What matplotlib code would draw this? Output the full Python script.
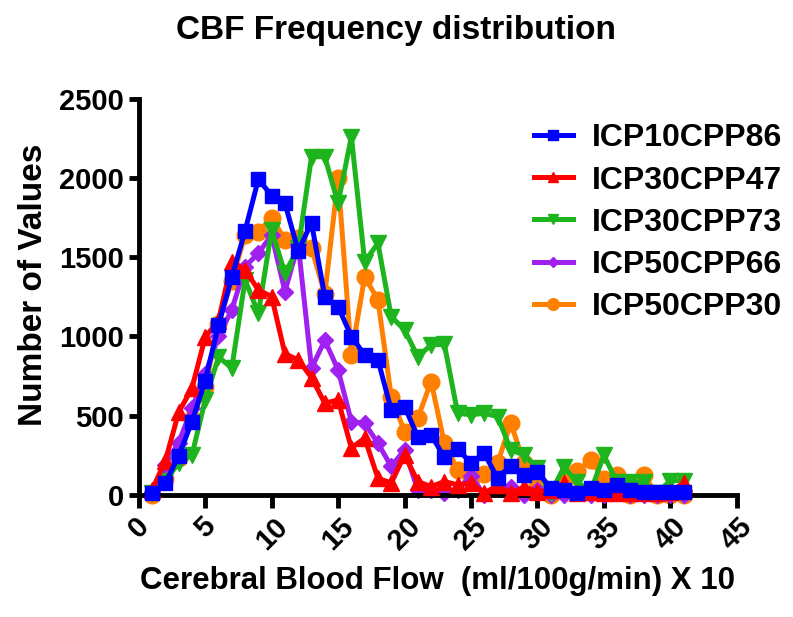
import numpy as np
import matplotlib
matplotlib.use("Agg")
import matplotlib.pyplot as plt

plt.rcParams['font.family'] = ['Liberation Sans', 'DejaVu Sans']
plt.rcParams['font.weight'] = 'bold'

# bin centres (x 10 ml/100g/min)
cbf = list(range(1, 42))

icp10cpp86 = [10, 74, 246, 462, 721, 1072, 1373, 1666, 1992, 1888,
              1840, 1540, 1716, 1251, 1188, 999, 883, 852, 536, 557,
              368, 379, 236, 290, 200, 263, 105, 185, 126, 147,
              42, 30, 10, 40, 30, 60, 30, 20, 20, 20, 20]
icp30cpp47 = [31, 215, 520, 673, 995, 1100, 1472, 1420, 1293, 1251,
              890, 852, 740, 578, 599, 295, 358, 105, 74, 252,
              84, 52, 84, 63, 74, 10, 60, 10, 50, 20,
              30, 74, 10, 20, 10, 10, 10, 10, 10, 20, 74]
icp30cpp73 = [10, 90, 200, 250, 599, 870, 800, 1356, 1146, 1672,
              1399, 1557, 2134, 2134, 1840, 2261, 1472, 1588, 1125, 1041,
              873, 946, 950, 515, 505, 515, 494, 284, 252, 168,
              10, 175, 80, 20, 250, 80, 80, 80, 10, 90, 90]
icp50cpp66 = [20, 190, 330, 546, 760, 1000, 1167, 1440, 1525, 1640,
              1283, 1580, 800, 975, 789, 462, 452, 326, 179, 284,
              32, 32, 10, 32, 120, 0, 42, 48, 0, 30,
              0, 0, 20, 0, 0, 10, 0, 0, 0, 0, 0]
icp50cpp30 = [0, 100, 230, 480, 680, 1080, 1350, 1640, 1660, 1750,
              1610, 1620, 1560, 1265, 1998, 883, 1377, 1230, 620, 399,
              484, 715, 326, 158, 100, 130, 200, 452, 200, 60,
              0, 80, 150, 221, 100, 126, 0, 126, 0, 0, 0]

series = [
    ("ICP10CPP86", icp10cpp86, "#0000FF", "s", 9.5, 5),
    ("ICP30CPP47", icp30cpp47, "#FF0000", "^", 11, 4),
    ("ICP30CPP73", icp30cpp73, "#1EB41E", "v", 11, 3),
    ("ICP50CPP66", icp50cpp66, "#A020F0", "D", 8, 2),
    ("ICP50CPP30", icp50cpp30, "#FF8000", "o", 12, 1),
]

fig = plt.figure(figsize=(7.93, 6.17), dpi=100)
ax = fig.add_axes([0.175, 0.198, 0.754, 0.642])

for name, vals, col, mk, ms, z in series:
    ax.plot(cbf, vals, color=col, marker=mk, markersize=ms, linewidth=3.6,
            label=name, zorder=z, clip_on=False)

ax.set_xlim(0, 45)
ax.set_ylim(0, 2500)
ax.set_xticks(np.arange(0, 46, 5))
ax.set_yticks(np.arange(0, 2501, 500))
for s in ['top', 'right']:
    ax.spines[s].set_visible(False)
for s in ['left', 'bottom']:
    ax.spines[s].set_linewidth(3.5)
ax.tick_params(axis='both', width=3.5, length=7, labelsize=21, direction='out')
ax.tick_params(axis='x', length=9)
for lab in ax.get_xticklabels():
    lab.set_rotation(45)
    lab.set_fontweight('bold')
for lab in ax.get_yticklabels():
    lab.set_fontweight('bold')

ax.set_xlabel("Cerebral Blood Flow  (ml/100g/min) X 10", fontsize=22.5,
              fontweight='bold', labelpad=8)
ax.set_ylabel("Number of Values", fontsize=24, fontweight='bold')
ax.yaxis.set_label_coords(-0.15, 0.53)
fig.suptitle("CBF Frequency distribution", fontsize=24, fontweight='bold', y=0.975)

leg = ax.legend(loc='upper left', bbox_to_anchor=(0.64, 0.97), frameon=False,
                prop={'size': 23, 'weight': 'bold'}, handlelength=1.2,
                handletextpad=0.6, labelspacing=0.38, markerscale=0.7,
                borderaxespad=0)

fig.savefig("out.png", dpi=100)
